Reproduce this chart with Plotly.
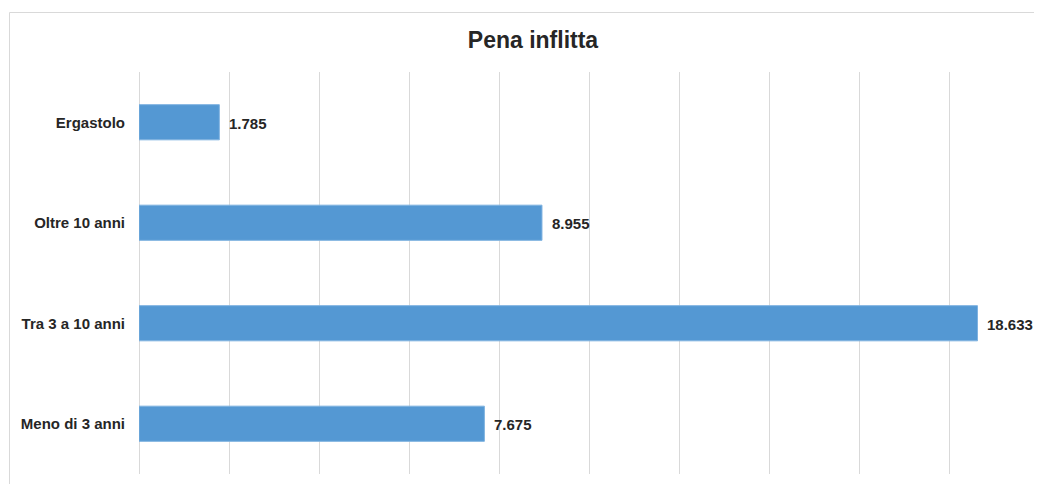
import plotly.graph_objects as go

categories = ["Meno di 3 anni", "Tra 3 a 10 anni", "Oltre 10 anni", "Ergastolo"]
values = [7675, 18633, 8955, 1785]
labels = ["7.675", "18.633", "8.955", "1.785"]

# page has an 8px body margin; figure is sized to fill the rest of the window
W, H = 1034, 476
L, R, T, B = 131, 1031, 64, 466

fig = go.Figure()
fig.add_trace(go.Bar(
    x=values, y=categories, orientation="h",
    marker=dict(color="#5498D3", line=dict(color="#7FB2E0", width=1)),
    width=0.35, hoverinfo="skip",
))

for v, c, t in zip(values, categories, labels):
    fig.add_annotation(x=v, y=c, text="<b>" + t + "</b>", showarrow=False,
                       xanchor="left", xshift=8, yshift=-1,
                       font=dict(family="Liberation Sans, Arial", size=15, color="#262626"))

pw, ph = R - L, B - T
fig.add_shape(type="rect", xref="paper", yref="paper",
              x0=(1.5 - L) / pw, x1=(1060 - L) / pw,
              y0=(B - 500) / ph, y1=(B - 4.5) / ph,
              line=dict(color="#D9D9D9", width=1), layer="below")

fig.update_layout(
    width=W, height=H,
    margin=dict(l=L, r=W - R, t=T, b=H - B, pad=0),
    paper_bgcolor="white", plot_bgcolor="white",
    title=dict(text="<b>Pena inflitta</b>", x=525 / W, xanchor="center",
               y=1 - 32 / H, yanchor="middle",
               font=dict(family="Liberation Sans, Arial", size=23, color="#262626")),
    showlegend=False,
    xaxis=dict(range=[0, 20000], dtick=2000, showticklabels=False, ticks="",
               showgrid=True, gridcolor="#D9D9D9", gridwidth=1,
               zeroline=True, zerolinecolor="#D9D9D9", zerolinewidth=1,
               showline=False, fixedrange=True),
    yaxis=dict(categoryorder="array", categoryarray=categories,
               ticks="", showgrid=False, zeroline=False, showline=False,
               ticklabelstandoff=13,
               tickfont=dict(family="Liberation Sans, Arial", size=15, color="#262626"),
               tickprefix="<b>", ticksuffix="</b>", fixedrange=True),
)

fig.write_html("out.html")
